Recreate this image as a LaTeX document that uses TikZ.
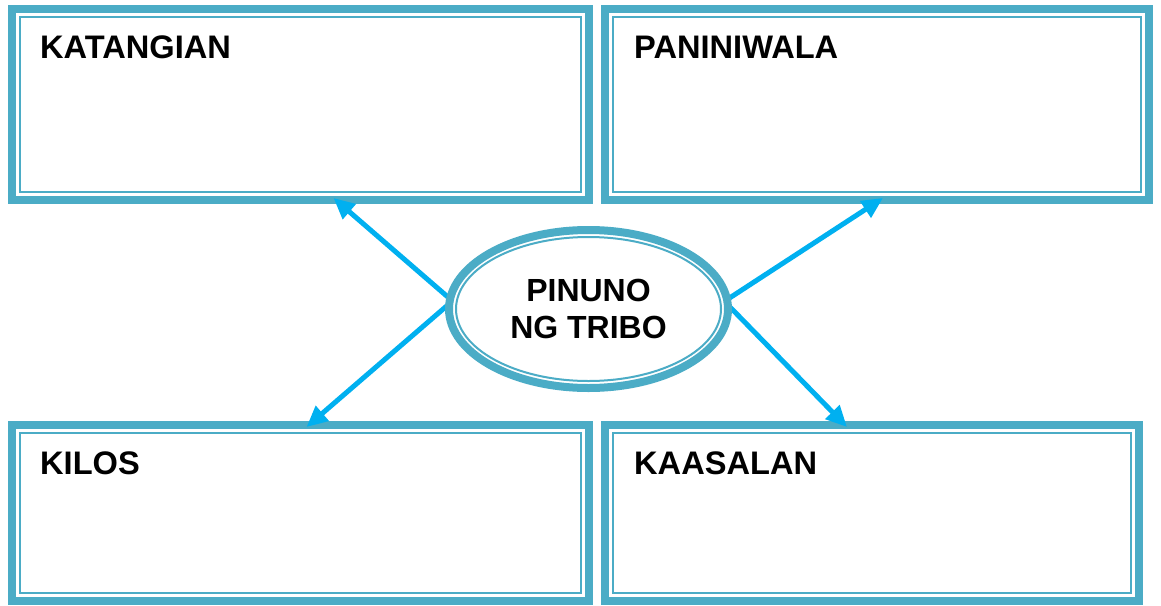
\documentclass[tikz,border=0pt]{standalone}
\usepackage{fontspec}
\setmainfont{Liberation Sans}
\usetikzlibrary{arrows.meta,shapes.geometric}
\definecolor{frame}{HTML}{4BACC6}
\definecolor{arrowc}{HTML}{00B0F0}
\pgfdeclarelayer{back}
\pgfdeclarelayer{mid}
\pgfsetlayers{back,mid,main}
\tikzset{
  box/.style={draw=frame, line width=8pt, rectangle, inner sep=0pt, outer sep=0pt},
  innerline/.style={draw=frame, line width=2pt},
  lbl/.style={anchor=base west, inner sep=0pt, font=\fontsize{32.6}{38}\selectfont\bfseries},
  link/.style={draw=arrowc, line width=5pt, -{Triangle[length=21pt,width=19pt]}},
  oval/.style={ellipse, draw=frame, line width=8pt, fill=white, inner sep=0pt, outer sep=0pt,
    align=center, font=\fontsize{32}{37}\selectfont\bfseries}
}
\begin{document}
\begin{tikzpicture}[x=1pt,y=-1pt]
\useasboundingbox (0,0) rectangle (1161,605);
\begin{pgfonlayer}{back}
\node[box, minimum width=577pt, minimum height=191pt] (b1) at (300.5,104.5) {};
\node[box, minimum width=544pt, minimum height=191pt] (b2) at (877,104.5) {};
\node[box, minimum width=577pt, minimum height=176pt] (b3) at (300.5,513) {};
\node[box, minimum width=534pt, minimum height=176pt] (b4) at (872,513) {};
\foreach \b in {b1,b2,b3,b4}
  \draw[innerline] ([shift={(8pt,-8pt)}]\b.north west) rectangle ([shift={(-8pt,8pt)}]\b.south east);
\end{pgfonlayer}
\node[lbl] (l1) at (40,58) {KATANGIAN};
\node[lbl] (l2) at (634,58) {PANINIWALA};
\node[lbl] (l3) at (40,474) {KILOS};
\node[lbl] (l4) at (634,474) {KAASALAN};
\node[oval, minimum width=279pt, minimum height=158pt] (e) at (588.5,309) {PINUNO\\NG TRIBO};
\draw[innerline] (e.center) ellipse [x radius=132.5pt, y radius=72pt];
\coordinate (t1) at ([xshift=33pt,yshift=2pt]b1.south);
\coordinate (t2) at ([xshift=6pt,yshift=2pt]b2.south);
\coordinate (t3) at ([xshift=6pt,yshift=-2pt]b3.north);
\coordinate (t4) at ([xshift=-25pt,yshift=-2pt]b4.north);
\begin{pgfonlayer}{mid}
\draw[link] ([yshift=11pt]e.west) -- (t1);
\draw[link] ([yshift=5pt]e.west) -- (t3);
\draw[link] ([yshift=10pt]e.east) -- (t2);
\draw[link] ([yshift=4pt]e.east) -- (t4);
\end{pgfonlayer}
\end{tikzpicture}
\end{document}
